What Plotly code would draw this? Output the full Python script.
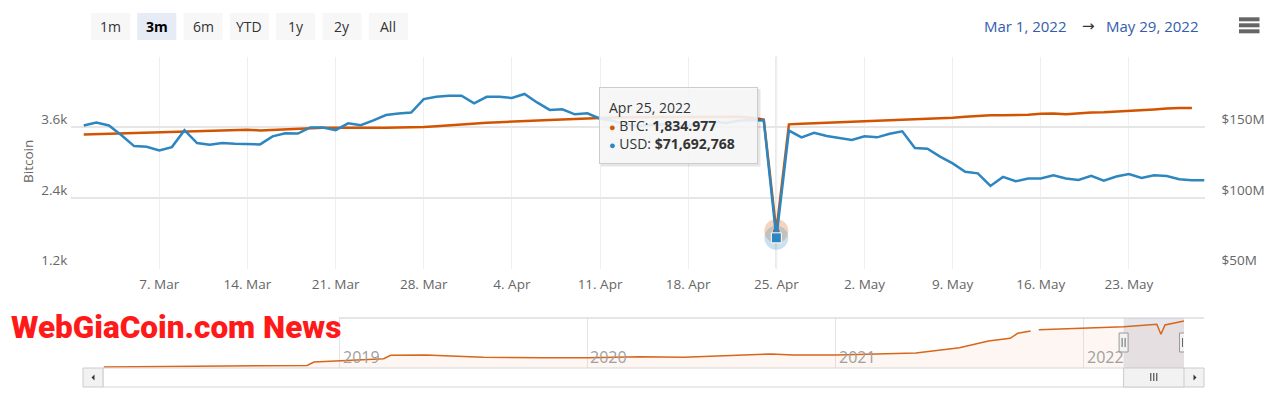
import plotly.graph_objects as go
import pandas as pd

W, H = 1282, 408
def px(x): return x / W
def py(y): return 1 - y / H

ORANGE = "#d35400"
BLUE = "#2e86c1"

# ---------------- data ----------------
dates = pd.date_range("2022-03-01", "2022-05-29", freq="D").strftime("%Y-%m-%d").tolist()

btc_holdings = [
    # March
    3476, 3483, 3488, 3493, 3502, 3507, 3514, 3521, 3527, 3536, 3543, 3548, 3553, 3558, 3545, 3553,
    3569, 3579, 3588, 3591, 3591, 3588, 3589, 3591, 3591, 3593, 3596, 3602, 3617, 3633, 3646,
    # April
    3660, 3674, 3684, 3696, 3705, 3712, 3720, 3729, 3738, 3748, 3764, 3766, 3768, 3770, 3771,
    3772, 3772, 3773, 3774, 3774, 3775, 3776, 3760, 3730, 1834.977, 3648, 3657, 3665, 3677, 3686,
    # May
    3695, 3705, 3714, 3722, 3729, 3731, 3734, 3743, 3760, 3777, 3795, 3803, 3803, 3807, 3810,
    3827, 3833, 3821, 3838, 3850, 3855, 3864, 3877, 3889, 3901, 3915, 3927, 3924, None,
]

usd_value_m = [
    # March
    151.2, 153.2, 151.2, 144.3, 136.6, 136.1, 133.5, 135.9, 147.9, 138.8, 137.6, 138.8, 138.3, 137.8,
    137.8, 143.5, 145.7, 145.5, 149.8, 149.8, 147.9, 152.7, 151.4, 154.8, 158.6, 159.6, 160.3, 169.9,
    171.5, 172.3, 172.3,
    # April
    166.8, 171.5, 171.5, 170.6, 173.5, 167.5, 162.2, 162.7, 159.1, 159.8, 156.0, 154.5, 152.0, 150.5,
    151.5, 152.0, 150.5, 151.0, 153.5, 154.0, 153.0, 154.5, 155.0, 154.8, 71.692768, 147.6, 142.8,
    146.0, 143.8, 142.4,
    # May
    141.0, 143.6, 142.8, 145.3, 147.1, 135.2, 134.7, 129.2, 124.4, 118.4, 117.3, 108.4, 114.8, 111.7,
    113.7, 113.7, 116.0, 113.7, 112.7, 115.5, 112.2, 115.1, 116.8, 114.1, 116.0, 115.5, 113.2, 112.5,
    112.5,
]

nav_dates = [
    "2018-01-18", "2018-07-13", "2018-10-26", "2018-11-14", "2018-11-24", "2019-01-01", "2019-03-07",
    "2019-03-17", "2019-05-09", "2019-06-04", "2019-08-01", "2019-10-29", "2020-01-01", "2020-03-19",
    "2020-05-22", "2020-09-28", "2020-10-30", "2021-01-01", "2021-04-29", "2021-07-02", "2021-08-14",
    "2021-09-15", "2021-09-26", "2021-10-15", "2021-10-20", "2021-10-27", "2022-01-01", "2022-03-01",
    "2022-04-19", "2022-04-25", "2022-05-01", "2022-05-29",
]
nav_btc = [
    75, 159, 192, 217, 501, 610, 777,
    1060, 1086, 1027, 893, 860, 860, 944,
    893, 1169, 1086, 1086, 1253, 1695, 2255,
    2480, 2897, 3090, None, 3198, 3315, 3449,
    3649, 2814, 3590, 3924,
]
nav_years = ["2019", "2020", "2021", "2022"]

range_buttons = ["1m", "3m", "6m", "YTD", "1y", "2y", "All"]
selected_button = "3m"
left_ticks = [1200, 2400, 3600, 4800]
left_labels = ["1.2k", "2.4k", "3.6k", ""]
right_ticks = [50, 100, 150, 200]
right_labels = ["$50M", "$100M", "$150M", ""]
hover_date = "2022-04-25"

# ---------------- figure ----------------
hi = dates.index(hover_date)
fig = go.Figure()

fig.add_trace(go.Scatter(x=dates, y=btc_holdings, mode="lines", name="BTC",
                         line=dict(color=ORANGE, width=2.5), xaxis="x", yaxis="y"))
fig.add_trace(go.Scatter(x=dates, y=usd_value_m, mode="lines", name="USD",
                         line=dict(color=BLUE, width=2.5), xaxis="x", yaxis="y2"))
# hover markers
fig.add_trace(go.Scatter(x=[dates[hi]], y=[btc_holdings[hi]], mode="markers", xaxis="x", yaxis="y",
                         marker=dict(size=24, color="rgba(211,84,0,0.25)")))
fig.add_trace(go.Scatter(x=[dates[hi]], y=[usd_value_m[hi]], mode="markers", xaxis="x", yaxis="y2",
                         marker=dict(size=24, color="rgba(46,134,193,0.25)")))
fig.add_trace(go.Scatter(x=[dates[hi]], y=[btc_holdings[hi]], mode="markers", xaxis="x", yaxis="y",
                         marker=dict(size=8, color=ORANGE, line=dict(color="white", width=1))))
fig.add_trace(go.Scatter(x=[dates[hi]], y=[usd_value_m[hi]], mode="markers", xaxis="x", yaxis="y2",
                         marker=dict(size=10, symbol="square", color=BLUE, line=dict(color="white", width=1))))
# navigator
fig.add_trace(go.Scatter(x=nav_dates, y=nav_btc, mode="lines", xaxis="x2", yaxis="y3",
                         fill="tozeroy", fillcolor="rgba(211,84,0,0.05)", connectgaps=False,
                         line=dict(color="#d8661a", width=1.5)))

shapes = []
annotations = []

# crosshair
shapes.append(dict(type="line", xref="x", yref="paper", x0=dates[hi], x1=dates[hi],
                   y0=py(268.5), y1=py(56.5), line=dict(color="#cccccc", width=1.5), layer="between"))

# range selector buttons
for i, b in enumerate(range_buttons):
    l = 91 + i * 46.3
    sel = (b == selected_button)
    shapes.append(dict(type="rect", xref="paper", yref="paper", x0=px(l), x1=px(l + 39),
                       y0=py(40), y1=py(13), fillcolor="#e6ebf5" if sel else "#f7f7f7",
                       line=dict(width=0)))
    annotations.append(dict(xref="paper", yref="paper", x=px(l + 19.5), y=py(26.5), showarrow=False,
                            text=f"<b>{b}</b>" if sel else b, xanchor="center", yanchor="middle",
                            font=dict(family="Open Sans", size=14, color="#000000" if sel else "#333333")))

# date range display
def fmt(d):
    return pd.Timestamp(d).strftime("%b %-d, %Y")
annotations.append(dict(xref="paper", yref="paper", x=px(1069), y=py(25.5), showarrow=False,
                        text=fmt(dates[0]), xanchor="right", yanchor="middle",
                        font=dict(family="Open Sans", size=15, color="#335cad")))
annotations.append(dict(xref="paper", yref="paper", x=px(1088), y=py(25.5), showarrow=False,
                        text="→", xanchor="center", yanchor="middle",
                        font=dict(family="DejaVu Sans", size=15, color="#333333")))
annotations.append(dict(xref="paper", yref="paper", x=px(1199.5), y=py(25.5), showarrow=False,
                        text=fmt(dates[-1]), xanchor="right", yanchor="middle",
                        font=dict(family="Open Sans", size=15, color="#335cad")))

# hamburger menu
for yc in (19.3, 25.3, 31.3):
    shapes.append(dict(type="rect", xref="paper", yref="paper", x0=px(1239), x1=px(1259.5),
                       y0=py(yc + 2), y1=py(yc - 2), fillcolor="#666666", line=dict(width=0)))

# axis title
annotations.append(dict(xref="paper", yref="paper", x=px(28), y=py(162), showarrow=False, text="Bitcoin",
                        textangle=-90, xanchor="center", yanchor="middle",
                        font=dict(family="Open Sans", size=13.5, color="#666666")))

# tooltip
tip = (f"{fmt(dates[hi])}<br>"
       f"<span style='color:{ORANGE};font-size:11px'>●</span> BTC: <b>{btc_holdings[hi]:,.3f}</b><br>"
       f"<span style='color:{BLUE};font-size:11px'>●</span> USD: <b>${usd_value_m[hi] * 1e6:,.0f}</b>")
shapes.append(dict(type="rect", xref="paper", yref="paper", x0=px(601), x1=px(760.5),
                   y0=py(166.5), y1=py(89), fillcolor="rgba(0,0,0,0.10)", line=dict(width=0), layer="above"))
annotations.append(dict(xref="paper", yref="paper", x=px(599), y=py(87), xanchor="left", yanchor="top",
                        showarrow=False, text=tip, align="left", valign="middle",
                        width=139, height=57, borderpad=9, borderwidth=1, bordercolor="#cccccc",
                        bgcolor="rgba(247,247,247,0.9)",
                        font=dict(family="Open Sans", size=14, color="#333333")))

# navigator selection mask
shapes.append(dict(type="rect", xref="x2", yref="paper", x0=dates[0], x1=dates[-1],
                   y0=py(368), y1=py(318), fillcolor="#e6e7ee", line=dict(width=0), layer="below"))
# navigator outline (top)
shapes.append(dict(type="line", xref="paper", yref="paper", x0=px(339), x1=px(1204), y0=py(318), y1=py(318),
                   line=dict(color="#cccccc", width=1)))
# navigator year labels
for yr in nav_years:
    annotations.append(dict(xref="x2", yref="paper", x=f"{yr}-01-01", y=py(357), xanchor="left",
                            yanchor="middle", xshift=1, showarrow=False, text=yr,
                            font=dict(family="Open Sans", size=16, color="#a0a0a0")))

# scrollbar
shapes.append(dict(type="rect", xref="paper", yref="paper", x0=px(103), x1=px(1184), y0=py(387), y1=py(368),
                   fillcolor="#ffffff", line=dict(color="#d6d6d6", width=1)))
for (a, b) in ((83, 103), (1184, 1204)):
    shapes.append(dict(type="rect", xref="paper", yref="paper", x0=px(a), x1=px(b), y0=py(387), y1=py(368),
                       fillcolor="#f2f2f2", line=dict(color="#cccccc", width=1)))
# arrows
shapes.append(dict(type="path", xref="paper", yref="paper",
                   path=f"M {px(91.5)} {py(377.5)} L {px(94.5)} {py(374.5)} L {px(94.5)} {py(380.5)} Z",
                   fillcolor="#333333", line=dict(width=0)))
shapes.append(dict(type="path", xref="paper", yref="paper",
                   path=f"M {px(1196.5)} {py(377.5)} L {px(1193.5)} {py(374.5)} L {px(1193.5)} {py(380.5)} Z",
                   fillcolor="#333333", line=dict(width=0)))
# thumb
shapes.append(dict(type="rect", xref="x2", yref="paper", x0=dates[0], x1=dates[-1], y0=py(387), y1=py(368),
                   fillcolor="#f2f2f2", line=dict(color="#cccccc", width=1)))
mid = pd.Timestamp(dates[0]) + (pd.Timestamp(dates[-1]) - pd.Timestamp(dates[0])) / 2
for off in (-3, 0, 3):
    shapes.append(dict(type="line", xref="x2", yref="paper", xsizemode="pixel", xanchor=mid.strftime("%Y-%m-%d %H:%M"),
                       x0=off, x1=off, y0=py(381), y1=py(373), line=dict(color="#333333", width=1)))
# handles
for d in (dates[0], dates[-1]):
    shapes.append(dict(type="rect", xref="x2", yref="paper", xsizemode="pixel", xanchor=d,
                       x0=-4.5, x1=4.5, y0=py(352), y1=py(333), fillcolor="#f2f2f2",
                       line=dict(color="#999999", width=1)))
    for off in (-1.5, 1.5):
        shapes.append(dict(type="line", xref="x2", yref="paper", xsizemode="pixel", xanchor=d,
                           x0=off, x1=off, y0=py(347), y1=py(338), line=dict(color="#666666", width=1)))

# watermark
annotations.append(dict(xref="paper", yref="paper", x=px(9), y=py(327), xanchor="left", yanchor="middle",
                        showarrow=False, text="WebGiaCoin.com News",
                        font=dict(family="Roboto", size=31.5, weight=900, color="#ff1a1a")))

fig.update_layout(
    width=W, height=H, autosize=False, margin=dict(l=0, r=0, t=0, b=0, autoexpand=False),
    paper_bgcolor="white", plot_bgcolor="white", showlegend=False, hovermode=False,
    font=dict(family="Open Sans", size=13.5, color="#666666"),
    xaxis=dict(domain=[px(71.4), px(1204.5)], range=["2022-02-28 00:30", "2022-05-29"], type="date", anchor="y",
               tick0="2022-03-07", dtick=7 * 86400000, tickformat="%-d. %b", showgrid=True, automargin=False,
               gridcolor="#efefef", gridwidth=1, ticks="", ticklabelstandoff=6, showline=False, zeroline=False,
               tickfont=dict(family="Open Sans", size=13.5, color="#666666")),
    yaxis=dict(domain=[py(268.5), py(56.5)], range=[1200, 4800], tickvals=left_ticks, ticktext=left_labels,
               showgrid=True, gridcolor="#e6e6e6", gridwidth=1.5, ticks="", ticklabelstandoff=3, automargin=False,
               ticklabelshift=-8, zeroline=False, showline=False, anchor="x",
               tickfont=dict(family="Open Sans", size=13.5, color="#666666")),
    yaxis2=dict(overlaying="y", side="right", range=[50, 200], tickvals=right_ticks, ticktext=right_labels,
                showgrid=False, ticks="", ticklabelstandoff=16, ticklabelshift=-8, zeroline=False, anchor="x",
                automargin=False, tickfont=dict(family="Open Sans", size=13.5, color="#666666")),
    xaxis2=dict(domain=[px(103.5), px(1184)], range=[nav_dates[0], nav_dates[-1]], type="date", anchor="y3",
                tick0="2019-01-01", dtick="M12", showticklabels=False,
                showgrid=True, gridcolor="#e6e6e6", ticks="", showline=False, zeroline=False, automargin=False),
    yaxis3=dict(domain=[py(368), py(318)], range=[0, 4175], visible=False, anchor="x2", automargin=False),
    shapes=shapes, annotations=annotations,
)

fig.write_html("out.html")
